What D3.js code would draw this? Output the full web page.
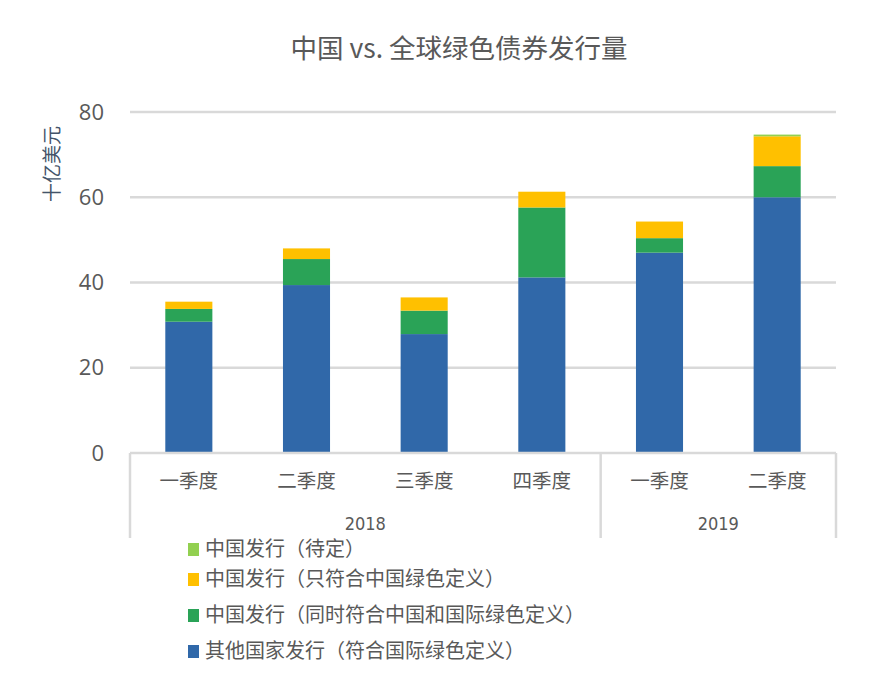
<!DOCTYPE html>
<html lang="zh">
<head>
<meta charset="UTF-8">
<title>中国 vs. 全球绿色债券发行量</title>
<script src="https://d3js.org/d3.v7.min.js"></script>
<style>
  body { margin: 0; background: #fff; }
  svg text { font-family: "Noto Sans CJK SC", "Open Sans", sans-serif; fill: #595959; }
</style>
</head>
<body>
<div id="chart"></div>
<script>
// data (十亿美元)
const quarters = ["一季度", "二季度", "三季度", "四季度", "一季度", "二季度"];
const years = ["2018", "2018", "2018", "2018", "2019", "2019"];
const otherIntl   = [30.8, 39.4, 27.9, 41.2, 47.0, 60.0];
const chinaBoth   = [3.0, 6.1, 5.5, 16.4, 3.4, 7.3];
const chinaOnly   = [1.7, 2.5, 3.1, 3.7, 3.9, 7.0];
const chinaTBD    = [0, 0, 0, 0, 0, 0.4];
const seriesNames = [
  "其他国家发行（符合国际绿色定义）",
  "中国发行（同时符合中国和国际绿色定义）",
  "中国发行（只符合中国绿色定义）",
  "中国发行（待定）"
];
const seriesColors = ["#3068a9", "#2aa357", "#ffc000", "#92d050"];
const yTicks = [0, 20, 40, 60, 80];

const W = 881, H = 700;
const margin = {top: 112, right: 45, bottom: 247, left: 130};
const width = W - margin.left - margin.right;
const height = H - margin.top - margin.bottom;

const svg = d3.select("#chart").append("svg")
  .attr("width", W).attr("height", H);

svg.append("text")
  .attr("x", 459).attr("y", 58)
  .attr("text-anchor", "middle")
  .style("font-size", "26.5px")
  .text("中国 vs. 全球绿色债券发行量");

const g = svg.append("g").attr("transform", `translate(${margin.left},${margin.top})`);

const keys = d3.range(quarters.length);
const x = d3.scaleBand().domain(keys).range([0, width]).paddingInner(0.6).paddingOuter(0.3);
const y = d3.scaleLinear().domain([0, 80]).range([height, 0]);

// gridlines
g.append("g").selectAll("line").data(yTicks.filter(d => d > 0)).join("line")
  .attr("x1", 0).attr("x2", width)
  .attr("y1", d => y(d)).attr("y2", d => y(d))
  .attr("stroke", "#d9d9d9").attr("stroke-width", 2.5);

// y axis labels
const yAxis = g.append("g").call(d3.axisLeft(y).tickValues(yTicks).tickSize(0).tickPadding(26));
yAxis.select(".domain").remove();
yAxis.selectAll("text")
  .style("font-family", "'Open Sans', 'Noto Sans', sans-serif")
  .style("font-size", "22px").attr("fill", "#595959");

svg.append("text")
  .attr("transform", "translate(59,164) rotate(-90)")
  .attr("text-anchor", "middle")
  .style("font-size", "19px").style("fill", "#44546a")
  .text("十亿美元");

// stacked bars
const rows = keys.map(i => ({i, s0: otherIntl[i], s1: chinaBoth[i], s2: chinaOnly[i], s3: chinaTBD[i]}));
const stack = d3.stack().keys(["s0", "s1", "s2", "s3"])(rows);

g.append("g").selectAll("g").data(stack).join("g")
  .attr("fill", (d, k) => seriesColors[k])
  .selectAll("rect").data(d => d).join("rect")
  .attr("x", d => x(d.data.i))
  .attr("width", x.bandwidth())
  .attr("y", d => y(d[1]))
  .attr("height", d => Math.max(0, y(d[0]) - y(d[1])));

// x axis (multi-level category)
const axisG = g.append("g").attr("transform", `translate(0,${height})`);
axisG.append("line").attr("x1", 0).attr("x2", width)
  .attr("stroke", "#d9d9d9").attr("stroke-width", 2.5);

const step = x.step();
const catX = i => x(i) + x.bandwidth() / 2;
axisG.selectAll(".cat").data(quarters).join("text")
  .attr("class", "cat")
  .attr("x", (d, i) => catX(i)).attr("y", 35)
  .attr("text-anchor", "middle")
  .style("font-size", "19.5px")
  .text(d => d);

const yearGroups = d3.groups(keys, i => years[i]);
const bounds = [0];
yearGroups.forEach(([yr, idx]) => bounds.push(catX(idx[idx.length - 1]) + step / 2));
axisG.selectAll(".sep").data(bounds).join("line")
  .attr("x1", d => d).attr("x2", d => d)
  .attr("y1", 0).attr("y2", 85)
  .attr("stroke", "#d9d9d9").attr("stroke-width", 2.5);

axisG.selectAll(".yr").data(yearGroups).join("text")
  .attr("class", "yr")
  .attr("x", ([yr, idx]) => (catX(idx[0]) + catX(idx[idx.length - 1])) / 2)
  .attr("y", 77)
  .attr("text-anchor", "middle")
  .style("font-family", "'Liberation Sans Narrow', 'DejaVu Sans Condensed', sans-serif")
  .style("font-size", "18px")
  .text(([yr]) => yr);

// legend (top to bottom reversed order like the picture)
const legendOrder = [3, 2, 1, 0];
const legendY = [551, 581, 617, 653];
const leg = svg.append("g").selectAll("g").data(legendOrder).join("g")
  .attr("transform", (k, j) => `translate(188,${legendY[j]})`);
leg.append("rect").attr("x", 0).attr("y", -8).attr("width", 11).attr("height", 13)
  .attr("fill", k => seriesColors[k]);
leg.append("text").attr("x", 17).attr("y", 0)
  .attr("dominant-baseline", "middle")
  .style("font-size", "20px")
  .text(k => seriesNames[k]);
</script>
</body>
</html>
